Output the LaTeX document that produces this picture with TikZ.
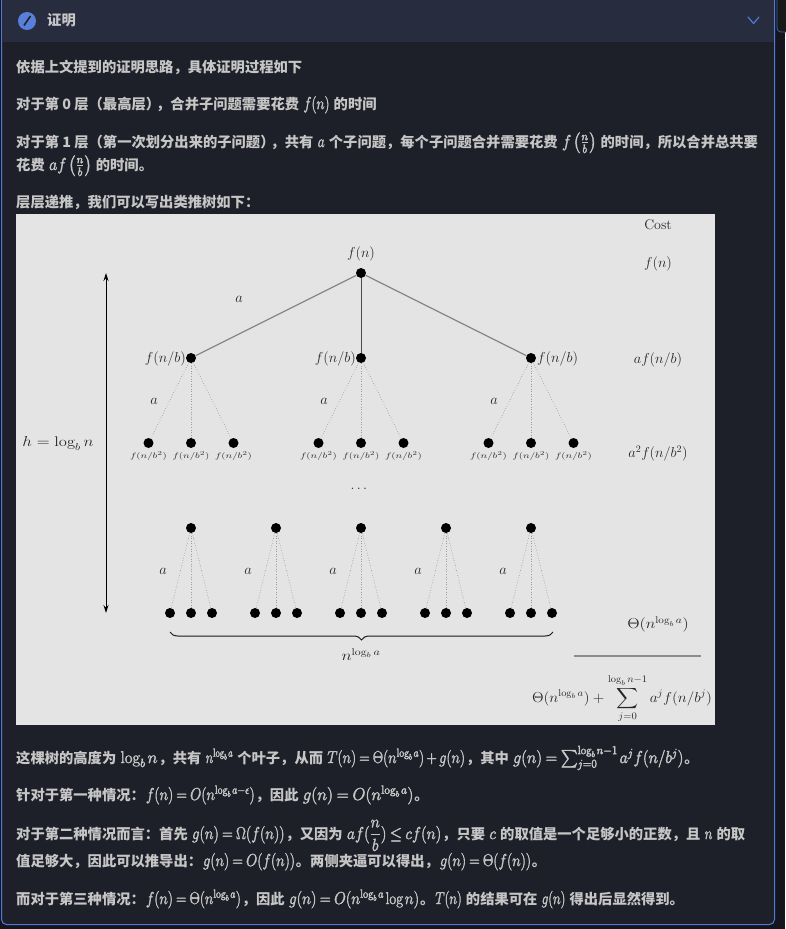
\documentclass[tikz,border=0pt]{standalone}
\usepackage{amsmath}
\usepackage{graphicx}
\usepackage{fontspec}
\newfontfamily\cjkfont{Noto Sans CJK SC}
\usetikzlibrary{decorations.pathreplacing,arrows.meta}
\definecolor{pagebg}{HTML}{1E2029}
\definecolor{headbg}{HTML}{282C3F}
\definecolor{edgeblue}{HTML}{4F78D8}
\definecolor{bodytxt}{HTML}{C6C6C6}
\definecolor{figbg}{HTML}{E4E4E4}
\newcommand{\X}[2][1]{\scalebox{#1}[1]{$#2$}}
\newcommand{\M}[2][.76]{\hspace{1pt}\scalebox{#1}[1]{\fontsize{17}{17}\selectfont\special{pdf:code q 2 Tr 0.4 w}$\thickmuskip=4mu\relax\medmuskip=3mu\relax\thinmuskip=2mu\relax #2$\special{pdf:code Q}}\hspace{1pt}}
\newcommand{\parafont}{\fontsize{14.3}{17}\cjkfont\bfseries}
\tikzset{
  x=1pt,y=-1pt,
  para/.style={anchor=base west,inner sep=0pt,text=bodytxt,font=\parafont},
  dotnode/.style={circle,fill=black,inner sep=0pt,minimum size=10pt},
  lab/.style={inner sep=0pt,yshift=-1.5pt,text=black!85,font=\fontsize{14}{17}\selectfont},
  tiny lab/.style={inner sep=0pt,text=black!80,font=\fontsize{8.5}{10}\selectfont},
  solidedge/.style={draw=black!47,line width=1.3pt},
  stemedge/.style={draw=black!70,line width=1pt},
  dotedge/.style={draw=black!50,line width=.55pt,dotted},
  vdotedge/.style={draw=black!38,line width=.55pt,dotted},
}
\begin{document}
\begin{tikzpicture}
\useasboundingbox (0,0) rectangle (785,929);
\fill[pagebg!70!black] (0,0) rectangle (785,929);
\draw[edgeblue!80!black,fill=black!90!white,line width=.8pt,rounded corners=4pt] (777,-6) rectangle (800,32);
\draw[edgeblue,fill=pagebg,line width=1pt,rounded corners=5pt] (1.5,-8) rectangle (774.5,924.5);
\begin{scope}
\clip[rounded corners=5pt] (2,-8) rectangle (774,924);
\fill[headbg] (2,-8) rectangle (774,42);
\end{scope}
% header
\node[circle,fill=edgeblue!95!white,minimum size=18pt,inner sep=0pt] (ic) at (27,21) {};
\draw[pagebg,line width=1.6pt] (24,25.5) -- (30.5,16);
\draw[edgeblue,line width=1.2pt,line cap=round,line join=round] (748,17) -- (753.5,23.5) -- (759,17);
\node[para] (title) at (47,25) {证明};
% text above
\node[para] (p1) at (16,72) {依据上文提到的证明思路，具体证明过程如下};
\node[para] (p2) at (16,109) {对于第 0 层（最高层）\hspace{-4pt}，合并子问题需要花费 \M[.8]{f(n)} 的时间};
\node[para] (p3) at (16,147) {对于第 1 层（第一次划分出来的子问题）\hspace{-4pt}，共有 \M[.78]{a} 个子问题，每个子问题合并需要花费 \M[.92]{f\left(\frac{n}{b}\right)} 的时间，所以合并总共要};
\node[para] (p4) at (16,170) {花费 \M[.92]{af\left(\frac{n}{b}\right)} 的时间。};
\node[para] (p5) at (16,207) {层层递推，我们可以写出类推树如下：};
% figure
\fill[figbg] (16,214) rectangle (715,725);
\node[dotnode] (r) at (361,273) {};
\node[lab] (rl) at (361,252) {$f(n)$};
\foreach \i/\x in {1/191,2/361,3/531}{
  \node[dotnode] (m\i) at (\x,358) {};
  \node[dotnode] (m\i a) at (\x-42.5,443) {};
  \node[dotnode] (m\i b) at (\x,443) {};
  \node[dotnode] (m\i c) at (\x+42.5,443) {};
  \draw[dotedge] (m\i) -- (m\i a);
  \draw[vdotedge] (m\i) -- (m\i b);
  \draw[dotedge] (m\i) -- (m\i c);
  \node[tiny lab] (ta\i) at (\x-42.5,456) {\X[1.28]{f(n/b^2)}};
  \node[tiny lab] (tb\i) at (\x,456) {\X[1.28]{f(n/b^2)}};
  \node[tiny lab] (tc\i) at (\x+42.5,456) {\X[1.28]{f(n/b^2)}};
  \node[lab] (am\i) at (\x-37,400) {$a$};
}
\draw[solidedge] (r) -- (m1);
\draw[stemedge] (r) -- (m2);
\draw[solidedge] (r) -- (m3);
\node[lab,anchor=east] (lm1) at (186,357) {$f(n/b)$};
\node[lab,anchor=east] (lm2) at (356,357) {$f(n/b)$};
\node[lab,anchor=west] (lm3) at (537,357) {$f(n/b)$};
\node[lab] (atop) at (239,298) {$a$};
\node[lab] (vd) at (360,487) {$\dots$};
\foreach \i/\x in {1/191,2/276,3/361,4/446,5/531}{
  \node[dotnode] (t\i) at (\x,528) {};
  \node[dotnode] (t\i a) at (\x-21,613) {};
  \node[dotnode] (t\i b) at (\x,613) {};
  \node[dotnode] (t\i c) at (\x+21,613) {};
  \draw[dotedge] (t\i) -- (t\i a);
  \draw[vdotedge] (t\i) -- (t\i b);
  \draw[dotedge] (t\i) -- (t\i c);
  \node[lab] (al\i) at (\x-28,570) {$a$};
}
\coordinate (hT) at (106,273);
\coordinate (hB) at (106,613);
\draw[black,line width=.9pt,{Stealth[length=8pt,width=5pt]}-{Stealth[length=8pt,width=5pt]}] (hT) -- (hB);
\node[lab] (hl) at (58,442) {\X[1.18]{h=\log_b n}};
\coordinate (bL) at (170,632);
\coordinate (bR) at (553,632);
\draw[black!90,line width=1pt,decorate,decoration={brace,mirror,amplitude=8pt}] (bL) -- (bR);
\node[lab] (nl) at (361,653) {\X[1.2]{n^{\log_b a}}};
\node[lab] (c0) at (658,223.5) {Cost};
\node[lab] (c1) at (658,262) {$f(n)$};
\node[lab] (c2) at (658,358) {$af(n/b)$};
\node[lab] (c3) at (658,452) {$a^2f(n/b^2)$};
\node[lab] (c4) at (658,623) {\X[1.13]{\Theta(n^{\log_b a})}};
\coordinate (sL) at (574,656);
\coordinate (sR) at (701,656);
\draw[black!45,line width=1.2pt] (sL) -- (sR);
\node[lab] (c5) at (622,697) {\X[1.06]{\displaystyle\Theta(n^{\log_b a})+\sum_{j=0}^{\log_b n-1}a^jf(n/b^j)}};
% text below
\node[para] (q1) at (16,763) {这棵树的高度为 \M[.99]{\log_b n}，共有 \M[.735]{n^{\log_b a}} 个叶子，从而 \M[.83]{T(n)=\Theta(n^{\log_b a})+g(n)}，其中 \M[.93]{g(n)=\sum_{j=0}^{\log_b n-1}a^jf(n/b^j)}。};
\node[para] (q2) at (16,800) {针对于第一种情况：\M[.84]{f(n)=O(n^{\log_b a-\epsilon})}，因此 \M[.97]{g(n)=O(n^{\log_b a})}。};
\node[para] (q3) at (16,839) {对于第二种情况而言：首先 \M[.86]{g(n)=\Omega(f(n))}，又因为 \M[.9]{af(\dfrac{n}{b})\le cf(n)}，只要 \M[.9]{c} 的取值是一个足够小的正数，且 \M{n} 的取};
\node[para] (q4) at (16,866) {值足够大，因此可以推导出：\M[.84]{g(n)=O(f(n))}。两侧夹逼可以得出，\M[.84]{g(n)=\Theta(f(n))}。};
\node[para] (q5) at (16,904) {而对于第三种情况：\M[.83]{f(n)=\Theta(n^{\log_b a})}，因此 \M[.88]{g(n)=O(n^{\log_b a}\log n)}。\M{T(n)} 的结果可在 \M{g(n)} 得出后显然得到。};
\end{tikzpicture}
\end{document}
